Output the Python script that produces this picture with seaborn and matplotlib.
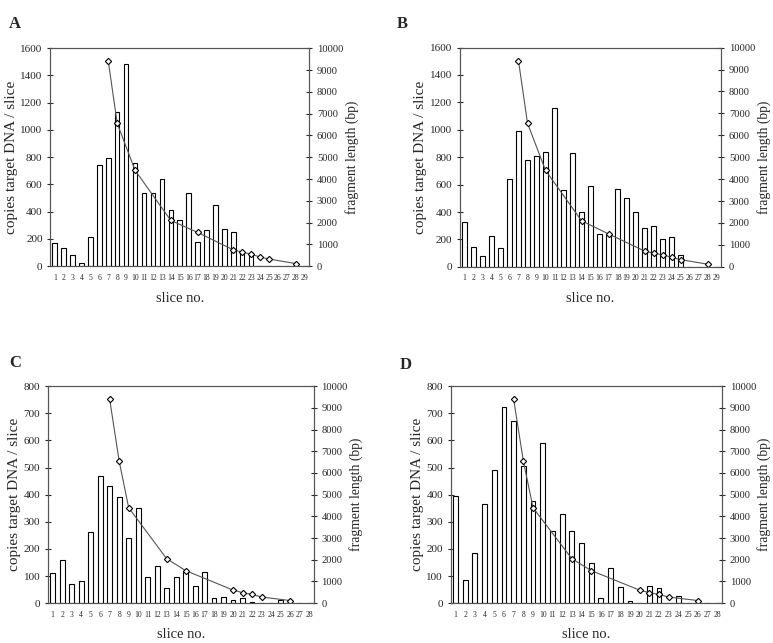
import numpy as np
import matplotlib
matplotlib.use("Agg")
import matplotlib.pyplot as plt
import seaborn as sns

sns.set_style("white")
plt.rcParams["font.family"] = ["Liberation Serif", "DejaVu Serif"]

# ---- data ----
# Panel A
slices_a = list(range(1, 30))
copies_a = [173, 137, 85, 27, 212, 745, 791, 1131, 1485, 760, 535, 540, 642, 415, 342,
            540, 181, 266, 452, 274, 254, 100, 95, 0, 0, 0, 0, 0, 0]
frag_x_a = [7, 8, 10, 14, 17, 21, 22, 23, 24, 25, 28]
frag_y_a = [9400, 6550, 4400, 2100, 1550, 750, 650, 550, 420, 330, 120]

# Panel B
slices_b = list(range(1, 30))
copies_b = [330, 145, 80, 222, 140, 640, 993, 778, 806, 835, 1162, 562, 830, 397, 590,
            243, 243, 565, 500, 398, 285, 295, 200, 215, 85, 0, 0, 0, 0]
frag_x_b = [7, 8, 10, 14, 17, 21, 22, 23, 24, 25, 28]
frag_y_b = [9400, 6550, 4400, 2100, 1500, 720, 620, 550, 430, 330, 120]

# Panel C
slices_c = list(range(1, 29))
copies_c = [110, 158, 70, 82, 262, 468, 431, 393, 240, 352, 96, 138, 54, 96, 114,
            64, 116, 20, 23, 10, 20, 6, 0, 0, 10, 10, 0, 0]
frag_x_c = [7, 8, 9, 13, 15, 20, 21, 22, 23, 26]
frag_y_c = [9400, 6550, 4400, 2050, 1500, 600, 480, 400, 280, 120]

# Panel D
slices_d = list(range(1, 29))
copies_d = [395, 85, 186, 366, 491, 724, 670, 505, 377, 589, 265, 330, 266, 221, 147,
            18, 130, 59, 7, 0, 65, 55, 0, 25, 0, 0, 0, 0]
frag_x_d = [7, 8, 9, 13, 15, 20, 21, 22, 23, 26]
frag_y_d = [9400, 6550, 4400, 2050, 1500, 600, 480, 400, 280, 120]

panels = [
    ("A", slices_a, copies_a, frag_x_a, frag_y_a, 1600, [0.065, 0.586, 0.335, 0.339], (0.012, 0.975)),
    ("B", slices_b, copies_b, frag_x_b, frag_y_b, 1600, [0.595, 0.585, 0.338, 0.341], (0.513, 0.975)),
    ("C", slices_c, copies_c, frag_x_c, frag_y_c, 800, [0.062, 0.062, 0.344, 0.3375], (0.012, 0.448)),
    ("D", slices_d, copies_d, frag_x_d, frag_y_d, 800, [0.583, 0.062, 0.351, 0.3375], (0.517, 0.445)),
]

fig = plt.figure(figsize=(7.73, 6.43), dpi=100)

for letra, sl, cp, fx, fy, ymax, pos, lpos in panels:
    ax = fig.add_axes(pos)
    sns.barplot(x=sl, y=cp, color="white", edgecolor="black", linewidth=0.8,
                width=0.5, ax=ax, saturation=1)
    ax.set_xlim(-0.5, len(sl) - 0.5)
    ax.set_ylim(0, ymax)
    ax.set_yticks(np.arange(0, ymax + 1, ymax // 8))
    ax.tick_params(axis="x", labelsize=5.5, length=3, direction="inout", pad=4)
    ax.tick_params(axis="y", labelsize=8, length=5, direction="inout", pad=3)
    ax.set_ylabel("copies target DNA / slice", fontsize=11, labelpad=2)
    ax.set_xlabel("slice no.", fontsize=10.5, labelpad=7)
    for s in ax.spines.values():
        s.set_linewidth(0.8)
        s.set_color("#555555")

    ax2 = ax.twinx()
    sns.lineplot(x=np.array(fx) - 1, y=fy, ax=ax2, color="#555555", linewidth=0.8,
                 marker="D", markersize=3.2, markerfacecolor="white",
                 markeredgecolor="black", markeredgewidth=0.8)
    ax2.set_ylim(0, 10000)
    ax2.set_xlim(-0.5, len(sl) - 0.5)
    ax2.set_yticks(np.arange(0, 10001, 1000))
    ax2.tick_params(axis="y", labelsize=7.6, length=5, direction="inout", pad=3)
    ax2.set_ylabel("fragment length (bp)", fontsize=9.8, labelpad=1)
    for s in ax2.spines.values():
        s.set_linewidth(0.8)
        s.set_color("#555555")

    fig.text(lpos[0], lpos[1], letra, fontsize=12, fontweight="bold", ha="left", va="top")

fig.savefig("out.png", dpi=100)
